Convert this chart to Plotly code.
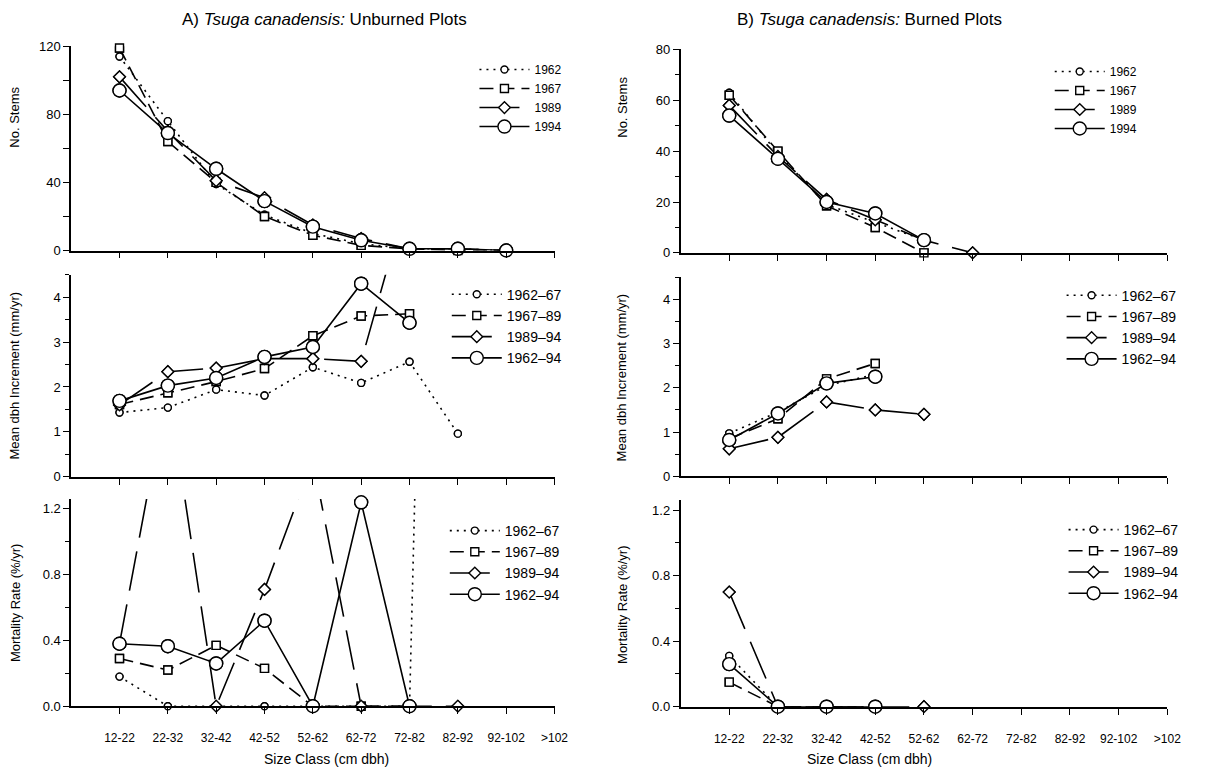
import plotly.graph_objects as go

# ---------------- data ----------------
categories = ["12-22", "22-32", "32-42", "42-52", "52-62", "62-72",
              "72-82", "82-92", "92-102", ">102"]

years_labels = ["1962", "1967", "1989", "1994"]
period_labels = ["1962\u201367", "1967\u201389", "1989\u201394", "1962\u201394"]

# A) Unburned: number of stems
stems_unb_1962 = [114, 76, 39, 21, 10, 4, 1, 1, 0]
stems_unb_1967 = [119, 64, 40, 20, 9, 3, 1, 0, 0]
stems_unb_1989 = [102, 70, 41, 31, 15, 7, 1, 1, 0]
stems_unb_1994 = [94, 69, 48, 29, 14, 6, 1, 1, 0]

# B) Burned: number of stems
stems_bur_1962 = [63, 39, 19, 12, 5]
stems_bur_1967 = [62, 40, 18.5, 10, 0]
stems_bur_1989 = [58, 38, 21, 13, 5, 0]
stems_bur_1994 = [54, 37, 20, 15.5, 5]

# A) Unburned: mean dbh increment (mm/yr)
inc_unb_6267 = [1.43, 1.54, 1.94, 1.81, 2.44, 2.09, 2.56, 0.96]
inc_unb_6789 = [1.61, 1.87, 2.12, 2.41, 3.14, 3.58, 3.63]
inc_unb_8994 = [1.60, 2.34, 2.42, 2.63, 2.63, 2.57, 6.4]
inc_unb_6294 = [1.69, 2.03, 2.20, 2.67, 2.89, 4.30, 3.43]

# B) Burned: mean dbh increment (mm/yr)
inc_bur_6267 = [0.97, 1.45, 2.05, 2.30]
inc_bur_6789 = [0.85, 1.30, 2.20, 2.55]
inc_bur_8994 = [0.62, 0.88, 1.68, 1.50, 1.40]
inc_bur_6294 = [0.82, 1.42, 2.10, 2.25]

# A) Unburned: mortality rate (%/yr)
mort_unb_6267 = [0.18, 0, 0, 0, 0, 0, 0, 11.7]
mort_unb_6789 = [0.29, 0.22, 0.37, 0.23, 0, 0, 0]
mort_unb_8994 = [0.38, 1.95, 0, 0.71, 1.5, 0, 0, 0]
mort_unb_6294 = [0.38, 0.365, 0.26, 0.52, 0, 1.24, 0]

# B) Burned: mortality rate (%/yr)
mort_bur_6267 = [0.31, 0, 0, 0]
mort_bur_6789 = [0.15, 0, 0, 0]
mort_bur_8994 = [0.70, 0, 0, 0, 0]
mort_bur_6294 = [0.26, 0, 0, 0]

# ---------------- layout helpers ----------------
W, H = 1212, 776
FONT = "Liberation Sans, Arial, sans-serif"


def fx(p):
    return p / W


def fy(p):
    return 1 - p / H


styles = [
    dict(dash="2px,5px", symbol="circle", size=7),
    dict(dash="14px,7px", symbol="square", size=8),
    dict(dash="40px,14px", symbol="diamond", size=9),
    dict(dash="solid", symbol="circle", size=13),
]

panels = [
    dict(series=[stems_unb_1962, stems_unb_1967, stems_unb_1989, stems_unb_1994],
         labels=years_labels, xd=(72, 561), yd=(40, 248.3), yr=(0, 120),
         tickvals=[0, 20, 40, 60, 80, 100, 120],
         ticktext=["0", "", "40", "", "80", "", "120"], minor=None,
         leg=(480, 49), legfont=12, gap=0),
    dict(series=[stems_bur_1962, stems_bur_1967, stems_bur_1989, stems_bur_1994],
         labels=years_labels, xd=(688.5, 1181), yd=(43.3, 250.7), yr=(0, 80),
         tickvals=[0, 20, 40, 60, 80], ticktext=["0", "20", "40", "60", "80"],
         minor=10, leg=(1062, 51), legfont=12, gap=0),
    dict(series=[inc_unb_6267, inc_unb_6789, inc_unb_8994, inc_unb_6294],
         labels=period_labels, xd=(72, 561), yd=(273, 479), yr=(0, 4.5),
         tickvals=[0, 1, 2, 3, 4], ticktext=["0", "1", "2", "3", "4"],
         minor=0.5, leg=(452, 277), legfont=14, gap=0),
    dict(series=[inc_bur_6267, inc_bur_6789, inc_bur_8994, inc_bur_6294],
         labels=period_labels, xd=(688.5, 1181), yd=(275.5, 478.5), yr=(0, 4.5),
         tickvals=[0, 1, 2, 3, 4], ticktext=["0", "1", "2", "3", "4"],
         minor=0.5, leg=(1074, 278), legfont=14, gap=0),
    dict(series=[mort_unb_6267, mort_unb_6789, mort_unb_8994, mort_unb_6294],
         labels=period_labels, xd=(72, 561), yd=(501.7, 713), yr=(0, 1.26),
         tickvals=[0, 0.4, 0.8, 1.2], ticktext=["0.0", "0.4", "0.8", "1.2"],
         minor=0.2, leg=(450, 518), legfont=14, gap=0),
    dict(series=[mort_bur_6267, mort_bur_6789, mort_bur_8994, mort_bur_6294],
         labels=period_labels, xd=(688.5, 1181), yd=(503, 713.5), yr=(0, 1.26),
         tickvals=[0, 0.4, 0.8, 1.2], ticktext=["0.0", "0.4", "0.8", "1.2"],
         minor=0.2, leg=(1076, 517), legfont=14, gap=0),
]

fig = go.Figure()
layout = dict(
    width=W, height=H, margin=dict(l=0, r=0, t=0, b=0),
    paper_bgcolor="white", plot_bgcolor="white",
    font=dict(family=FONT, color="black", size=12),
)

xs_all = list(range(len(categories)))

for i, p in enumerate(panels, start=1):
    sfx = "" if i == 1 else str(i)
    legid = "legend" if i == 1 else f"legend{i}"
    ymax = p["yr"][1]
    for j, vals in enumerate(p["series"]):
        st = styles[j]
        xs = xs_all[:len(vals)]
        fig.add_trace(go.Scatter(
            x=xs, y=vals, mode="lines+markers", name=p["labels"][j],
            line=dict(color="black", width=1.6, dash=st["dash"]),
            marker=dict(symbol=st["symbol"], size=st["size"], color="white",
                        line=dict(color="black", width=1.4)),
            xaxis="x" + sfx, yaxis="y" + sfx, legend=legid,
            legendgroup=f"p{i}s{j}", cliponaxis=True, hoverinfo="skip",
        ))
    for j, vals in enumerate(p["series"]):
        st = styles[j]
        xs = xs_all[:len(vals)]
        yin = [v if (v is not None and v <= ymax) else None for v in vals]
        fig.add_trace(go.Scatter(
            x=xs, y=yin, mode="markers", showlegend=False,
            marker=dict(symbol=st["symbol"], size=st["size"], color="white",
                        line=dict(color="black", width=1.4)),
            xaxis="x" + sfx, yaxis="y" + sfx, cliponaxis=False, hoverinfo="skip",
        ))

    bottom = i >= 5
    layout["xaxis" + sfx] = dict(
        domain=[fx(p["xd"][0]), fx(p["xd"][1])], range=[-1, len(categories) - 1],
        anchor="y" + sfx, showline=True, linecolor="black", linewidth=1.6,
        ticks="outside", ticklen=6, tickwidth=1.4, tickcolor="black",
        tickvals=xs_all, ticktext=categories if bottom else [""] * len(categories),
        showticklabels=bottom, showgrid=False, zeroline=False,
        tickfont=dict(family="Liberation Sans Narrow, " + FONT, size=12),
        ticklabelstandoff=14,
    )
    ydict = dict(
        domain=[fy(p["yd"][1]), fy(p["yd"][0])], range=list(p["yr"]),
        anchor="x" + sfx, showline=True, linecolor="black", linewidth=1.6,
        ticks="outside", ticklen=6, tickwidth=1.4, tickcolor="black",
        tickvals=p["tickvals"], ticktext=p["ticktext"],
        showgrid=False, zeroline=False, tickfont=dict(size=13),
    )
    if p["minor"]:
        ydict["minor"] = dict(dtick=p["minor"], ticks="outside", ticklen=4,
                              tickwidth=1.2, tickcolor="black", showgrid=False)
    layout["yaxis" + sfx] = ydict

    layout[legid] = dict(
        x=fx(p["leg"][0]), y=fy(p["leg"][1]), xanchor="left", yanchor="top",
        bgcolor="rgba(0,0,0,0)", borderwidth=0, tracegroupgap=p["gap"],
        font=dict(size=p["legfont"], family=FONT), itemwidth=50,
        traceorder="grouped",
    )

annotations = [
    dict(text="A) <i>Tsuga canadensis:</i> Unburned Plots", x=fx(328), y=fy(13),
         font=dict(size=17)),
    dict(text="B) <i>Tsuga canadensis:</i> Burned Plots", x=fx(880), y=fy(13),
         font=dict(size=17)),
    dict(text="Size Class (cm dbh)", x=fx(330), y=fy(767), font=dict(size=14)),
    dict(text="Size Class (cm dbh)", x=fx(880), y=fy(767), font=dict(size=14)),
    dict(text="No. Stems", x=fx(15), y=fy(112), textangle=-90, font=dict(size=13)),
    dict(text="Mean dbh Increment (mm/yr)", x=fx(15), y=fy(376), textangle=-90,
         font=dict(size=13)),
    dict(text="Mortality Rate (%/yr)", x=fx(15), y=fy(608), textangle=-90,
         font=dict(size=13)),
    dict(text="No. Stems", x=fx(629), y=fy(102), textangle=-90, font=dict(size=13)),
    dict(text="Mean dbh Increment (mm/yr)", x=fx(629), y=fy(378), textangle=-90,
         font=dict(size=13)),
    dict(text="Mortality Rate (%/yr)", x=fx(629), y=fy(610), textangle=-90,
         font=dict(size=13)),
]
for a in annotations:
    a.update(xref="paper", yref="paper", showarrow=False, xanchor="center",
             yanchor="middle")
layout["annotations"] = annotations

fig.update_layout(**layout)
fig.write_html("out.html")
